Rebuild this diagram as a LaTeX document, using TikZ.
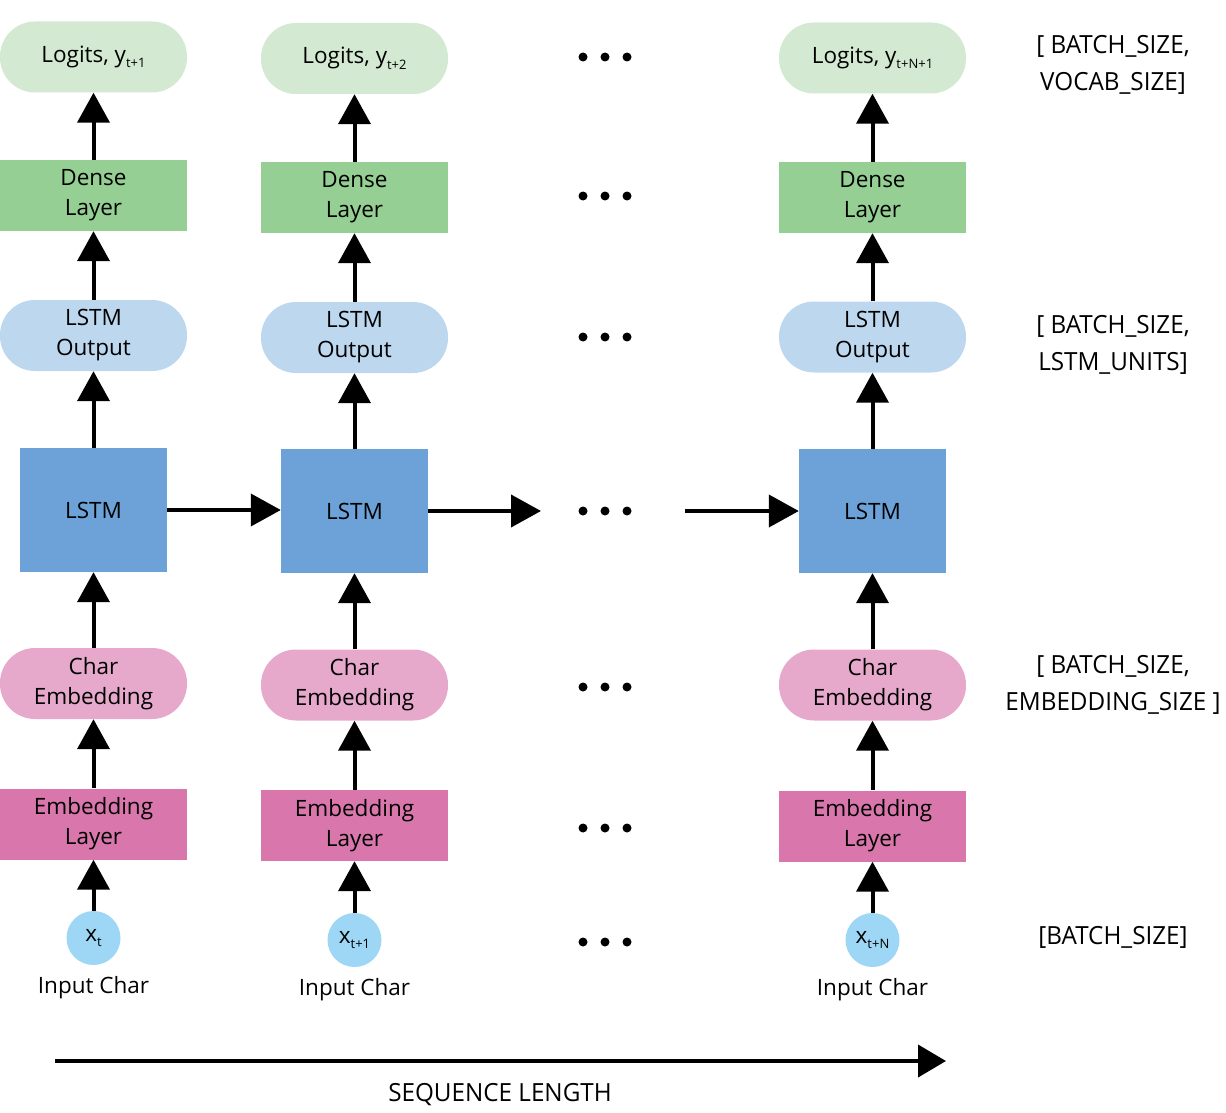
\documentclass[tikz,border=0pt]{standalone}
\usepackage{fontspec}
\setmainfont{Open Sans}
\newfontfamily\condfont[FakeStretch=0.97]{Open Sans}
\usetikzlibrary{arrows.meta,positioning}

\definecolor{logitgreen}{HTML}{D3E9D1}
\definecolor{densegreen}{HTML}{95CF94}
\definecolor{outblue}{HTML}{BDD7EF}
\definecolor{lstmblue}{HTML}{6CA2D7}
\definecolor{charpink}{HTML}{E6A9CC}
\definecolor{embpink}{HTML}{D977AD}
\definecolor{inputblue}{HTML}{9DD7F5}

\newcommand{\lowsub}[1]{\raisebox{-0.45ex}{\fontsize{13}{13}\selectfont #1}}
\newcommand{\rowdots}[1]{%
  \fill (583,#1) circle (4.5) (605,#1) circle (4.5) (627,#1) circle (4.5);}

\begin{document}
\begin{tikzpicture}
[x=1pt,y=-1pt,%
  every node/.style={font=\fontsize{22.5}{30}\selectfont,align=center,inner sep=0pt},%
  pill/.style={rounded corners=35pt,minimum width=187pt,minimum height=71pt},%
  layer/.style={minimum width=187pt,minimum height=71pt},%
  cell/.style={fill=lstmblue,minimum width=147pt,minimum height=124pt},%
  inchar/.style={circle,fill=inputblue,minimum size=54pt},%
  dimlabel/.style={font=\condfont\fontsize{25}{37}\selectfont},%
  flow/.style={line width=4pt,-{Triangle[width=32pt,length=30pt]}}]
\useasboundingbox (0,0) rectangle (1226,1113);

% column t
\node[pill,fill=logitgreen] (logitsA) at (93.5,57) {Logits, y\lowsub{t+1}};
\node[layer,fill=densegreen] (denseA) at (93.5,195.5) {Dense\\Layer};
\node[pill,fill=outblue] (outA) at (93.5,335.5) {LSTM\\Output};
\node[cell] (lstmA) at (93.5,510) {LSTM};
\node[pill,fill=charpink] (charA) at (93.5,683.5) {Char\\Embedding};
\node[layer,fill=embpink] (embA) at (93.5,824) {Embedding\\Layer};
\node[inchar] (inA) at (93.5,938) {x\lowsub{t}};
\node (lblA) at (93.5,988) {Input Char};

% column t+1
\node[pill,fill=logitgreen] (logitsB) at (354.5,58.5) {Logits, y\lowsub{t+2}};
\node[layer,fill=densegreen] (denseB) at (354.5,197.5) {Dense\\Layer};
\node[pill,fill=outblue] (outB) at (354.5,337.5) {LSTM\\Output};
\node[cell] (lstmB) at (354.5,511) {LSTM};
\node[pill,fill=charpink] (charB) at (354.5,685) {Char\\Embedding};
\node[layer,fill=embpink] (embB) at (354.5,825.5) {Embedding\\Layer};
\node[inchar] (inB) at (354.5,940) {x\lowsub{t+1}};
\node (lblB) at (354.5,990) {Input Char};

% column t+N
\node[pill,fill=logitgreen] (logitsC) at (872.5,58) {Logits, y\lowsub{t+N+1}};
\node[layer,fill=densegreen] (denseC) at (872.5,197.5) {Dense\\Layer};
\node[pill,fill=outblue] (outC) at (872.5,337) {LSTM\\Output};
\node[cell] (lstmC) at (872.5,511) {LSTM};
\node[pill,fill=charpink] (charC) at (872.5,685) {Char\\Embedding};
\node[layer,fill=embpink] (embC) at (872.5,826) {Embedding\\Layer};
\node[inchar] (inC) at (872.5,940) {x\lowsub{t+N}};
\node (lblC) at (872.5,990) {Input Char};

% upward flow
\foreach \c in {A,B,C}{
  \draw[flow] (in\c) -- (emb\c);
  \draw[flow] (emb\c) -- (char\c);
  \draw[flow] (char\c) -- (lstm\c);
  \draw[flow] (lstm\c) -- (out\c);
  \draw[flow] (out\c) -- (dense\c);
  \draw[flow] (dense\c) -- (logits\c);
}

% recurrent state
\coordinate (gapL) at (541,511);
\coordinate (gapR) at (685,511);
\draw[flow] (lstmA.east) -- (lstmA.east -| lstmB.west);
\draw[flow] (lstmB) -- (gapL);
\draw[flow] (gapR) -- (lstmC);

\rowdots{57}
\rowdots{196}
\rowdots{337}
\rowdots{511}
\rowdots{687}
\rowdots{828}
\rowdots{942}

% shapes
\node[dimlabel] (dimLogits) at (1113,65) {[ BATCH\_SIZE,\\VOCAB\_SIZE]};
\node[dimlabel] (dimOut) at (1113,345) {[ BATCH\_SIZE,\\LSTM\_UNITS]};
\node[dimlabel] (dimChar) at (1113,685) {[ BATCH\_SIZE,\\EMBEDDING\_SIZE ]};
\node[dimlabel] (dimIn) at (1113,937) {[BATCH\_SIZE]};

% sequence axis
\coordinate (seqS) at (55,1061);
\coordinate (seqE) at (946,1061);
\draw[line width=4pt,-{Triangle[width=32pt,length=28pt]}] (seqS) -- (seqE);
\node[dimlabel] (seqlbl) at (500,1095) {SEQUENCE LENGTH};
\end{tikzpicture}
\end{document}
